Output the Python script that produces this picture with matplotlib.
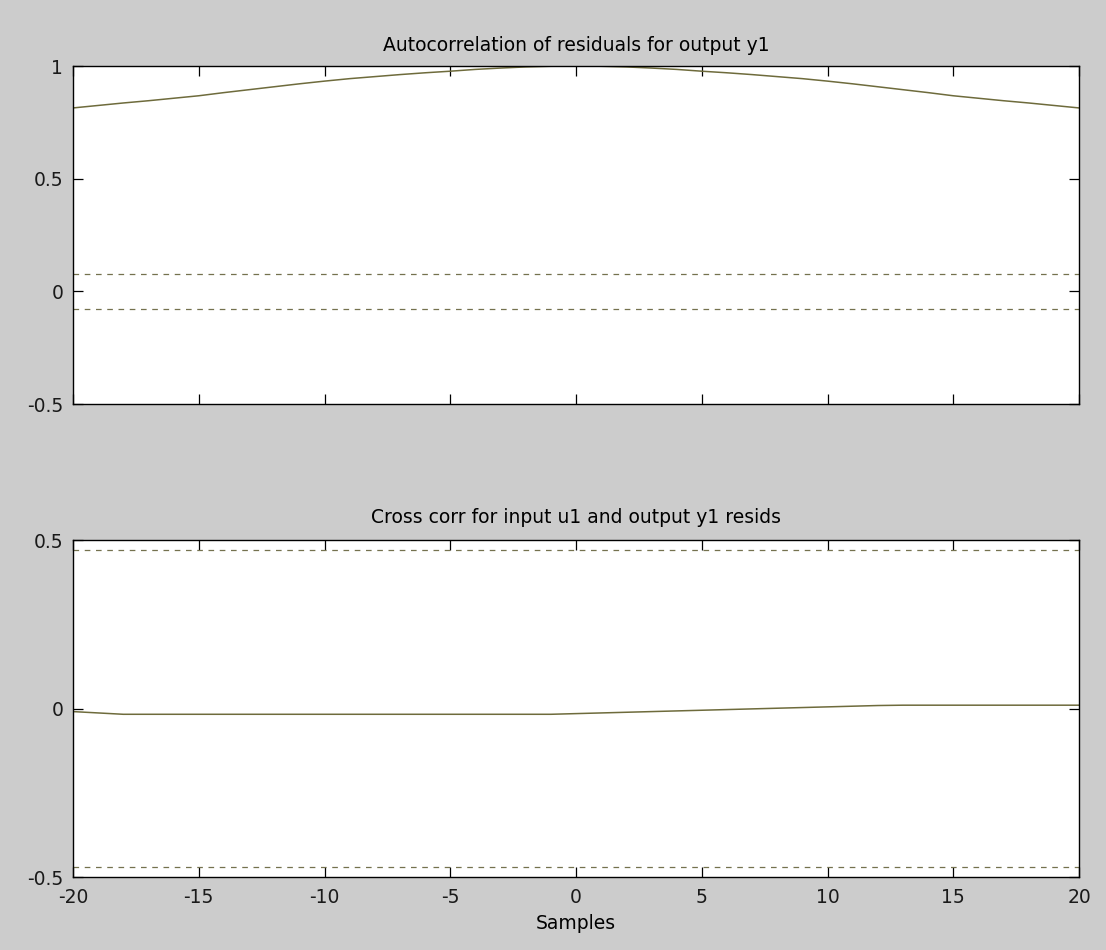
import matplotlib.pyplot as plt
import numpy as np

# lags for both panels
lags = list(range(-20, 21))

# autocorrelation of residuals, lags 0..20 (symmetric)
acf_pos = [1.000, 0.999, 0.996, 0.991, 0.985, 0.977, 0.970, 0.962, 0.953, 0.944,
           0.933, 0.921, 0.908, 0.895, 0.882, 0.868, 0.857, 0.846, 0.836, 0.825, 0.814]
acf = acf_pos[:0:-1] + acf_pos
acf_conf = 0.077

# cross correlation u1 -> y1 resids, lags -20..20
xcorr = [-0.009, -0.013, -0.017, -0.017, -0.017, -0.017, -0.017, -0.017, -0.017, -0.017,
         -0.017, -0.017, -0.017, -0.017, -0.017, -0.017, -0.017, -0.017, -0.017, -0.017,
         -0.015, -0.013, -0.011, -0.009, -0.007, -0.005, -0.003, -0.001, 0.001, 0.003,
         0.005, 0.007, 0.009, 0.010, 0.010, 0.010, 0.010, 0.010, 0.010, 0.010, 0.010]
xcorr_conf = 0.47

plt.rcParams['font.family'] = ['DejaVu Sans']
plt.rcParams['font.size'] = 13.5

bg = '#cccccc'
line_col = '#6e6b3c'
conf_col = '#74714e'

fig = plt.figure(figsize=(11.06, 9.5), dpi=100, facecolor=bg)
ax1 = fig.add_axes([0.066, 0.5747, 0.9096, 0.3558])
ax2 = fig.add_axes([0.066, 0.0768, 0.9096, 0.3547])


def style(ax):
    ax.set_facecolor('white')
    for s in ax.spines.values():
        s.set_linewidth(1.0)
        s.set_color('black')
    ax.tick_params(direction='in', length=7.5, width=0.9, top=True, right=True,
                   colors='black', labelcolor='#1a1a1a')
    ax.tick_params(axis='y', pad=7)
    ax.tick_params(axis='x', pad=8)
    ax.set_xlim(-20, 20)
    ax.set_xticks(range(-20, 21, 5))


style(ax1)
ax1.plot(lags, acf, color=line_col, lw=1.1)
ax1.axhline(acf_conf, color=conf_col, lw=0.9, ls=(0, (4.5, 4.5)))
ax1.axhline(-acf_conf, color=conf_col, lw=0.9, ls=(0, (4.5, 4.5)))
ax1.set_ylim(-0.5, 1)
ax1.set_yticks([-0.5, 0, 0.5, 1])
ax1.set_yticklabels(['-0.5', '0', '0.5', '1'])
ax1.set_xticklabels([])
ax1.set_title('Autocorrelation of residuals for output y1', pad=11, fontsize=13.5)

style(ax2)
ax2.plot(lags, xcorr, color=line_col, lw=1.1)
ax2.axhline(xcorr_conf, color=conf_col, lw=0.9, ls=(0, (4.5, 4.5)))
ax2.axhline(-xcorr_conf, color=conf_col, lw=0.9, ls=(0, (4.5, 4.5)))
ax2.set_ylim(-0.5, 0.5)
ax2.set_yticks([-0.5, 0, 0.5])
ax2.set_yticklabels(['-0.5', '0', '0.5'])
ax2.set_xticklabels([str(v) for v in range(-20, 21, 5)])
ax2.set_title('Cross corr for input u1 and output y1 resids', pad=12, fontsize=13.5)
ax2.set_xlabel('Samples', labelpad=5)

fig.savefig('out.png', dpi=100, facecolor=bg)
